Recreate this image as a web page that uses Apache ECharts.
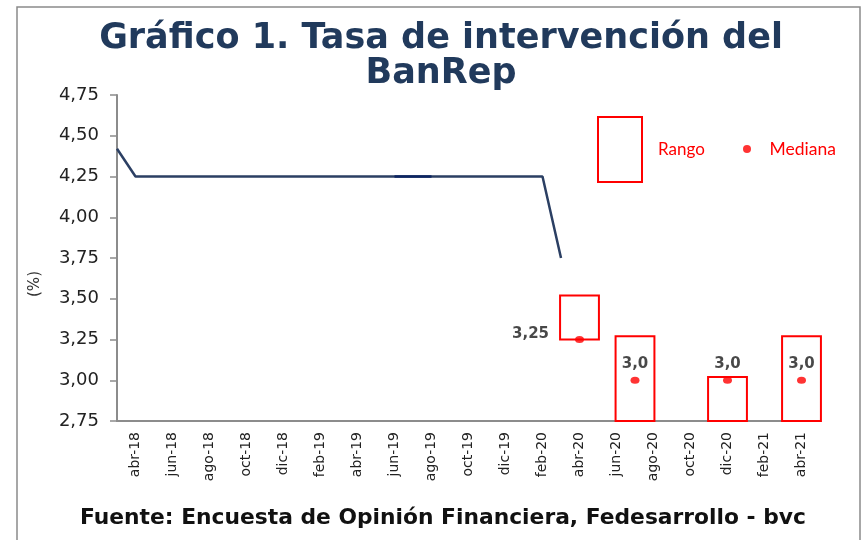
<!DOCTYPE html>
<html>
<head>
<meta charset="utf-8">
<script src="https://cdn.jsdelivr.net/npm/echarts@6/dist/echarts.min.js"></script>
<style>
  html, body { margin: 0; padding: 0; background: #fff; }
  #chart { width: 863px; height: 540px; }
</style>
</head>
<body>
<div id="chart"></div>
<script>
  // eje x mensual
  const meses = ['mar-18', 'abr-18', 'may-18', 'jun-18', 'jul-18', 'ago-18', 'sep-18', 'oct-18', 'nov-18', 'dic-18',
    'ene-19', 'feb-19', 'mar-19', 'abr-19', 'may-19', 'jun-19', 'jul-19', 'ago-19', 'sep-19', 'oct-19', 'nov-19', 'dic-19',
    'ene-20', 'feb-20', 'mar-20', 'abr-20', 'may-20', 'jun-20', 'jul-20', 'ago-20', 'sep-20', 'oct-20', 'nov-20', 'dic-20',
    'ene-21', 'feb-21', 'mar-21', 'abr-21', 'may-21'];
  // tasa observada
  const tasa = [4.42, 4.25, 4.25, 4.25, 4.25, 4.25, 4.25, 4.25, 4.25, 4.25,
    4.25, 4.25, 4.25, 4.25, 4.25, 4.25, 4.25, 4.25, 4.25, 4.25, 4.25, 4.25,
    4.25, 4.25, 3.75];
  const tramoMeses = ['jun-19', 'jul-19', 'ago-19'];
  const tramoVal = [4.25, 4.25, 4.25];
  // encuesta: rango y mediana
  const rangoMeses = ['abr-20', 'jul-20', 'dic-20', 'abr-21'];
  const rangoMin = [3.25, 2.75, 2.75, 2.75];
  const rangoMax = [3.52, 3.27, 3.02, 3.27];
  const mediana = [3.25, 3.0, 3.0, 3.0];

  const rojo = '#ff0000';
  const fmt = v => (v % 1 === 0 ? v.toFixed(1) : v.toFixed(2)).replace('.', ',');

  let option = {
    backgroundColor: '#fff',
    animation: false,
    title: [{
      text: 'Gráfico 1. Tasa de intervención del\nBanRep',
      left: 441,
      top: 21,
      padding: 0,
      textAlign: 'center',
      textStyle: {
        fontFamily: 'DejaVu Sans',
        fontWeight: 'bold',
        fontSize: 35,
        lineHeight: 35,
        color: '#213a5c'
      }
    }, {
      text: 'Fuente: Encuesta de Opinión Financiera, Fedesarrollo - bvc',
      left: 80,
      top: 507,
      padding: 0,
      textStyle: {
        fontFamily: 'DejaVu Sans',
        fontWeight: 'bold',
        fontSize: 21.8,
        color: '#111'
      }
    }],
    legend: [{
      data: [{ name: 'Rango', icon: 'rect', itemStyle: { color: '#fff', borderColor: rojo, borderWidth: 2 } }],
      left: 597,
      top: 116,
      padding: 0,
      itemWidth: 44,
      itemHeight: 65,
      textStyle: { fontFamily: 'Lato', fontSize: 17, color: rojo, padding: [0, 0, 0, 11] }
    }, {
      data: [{ name: 'Mediana', icon: 'circle' }],
      left: 743,
      top: 140,
      padding: 0,
      itemWidth: 9,
      itemHeight: 8,
      textStyle: { fontFamily: 'Lato', fontSize: 17.5, color: rojo, padding: [0, 0, 0, 13] }
    }],
    graphic: [{
      type: 'rect',
      shape: { x: 17, y: 7, width: 843, height: 560 },
      style: { fill: 'none', stroke: '#8a8a8a', lineWidth: 1.5 },
      silent: true
    }],
    grid: { left: 117, right: 43, top: 95, bottom: 119 },
    xAxis: {
      type: 'category',
      data: meses,
      boundaryGap: false,
      axisLine: { lineStyle: { color: '#8c8c8c', width: 2 } },
      axisTick: { show: false },
      axisLabel: {
        rotate: 90,
        margin: 11,
        fontFamily: 'DejaVu Sans',
        fontSize: 14,
        color: '#222',
        interval: function (index) { return index % 2 === 1; }
      },
      splitLine: { show: false }
    },
    yAxis: {
      type: 'value',
      min: 2.75,
      max: 4.75,
      interval: 0.25,
      name: '(%)',
      nameLocation: 'middle',
      nameGap: 74,
      nameTextStyle: { fontFamily: 'DejaVu Sans', fontSize: 15, color: '#333', padding: [0, 52, 0, 0] },
      axisLine: { show: true, lineStyle: { color: '#8c8c8c', width: 2 } },
      axisTick: { show: true, length: 7, lineStyle: { color: '#8c8c8c', width: 1.5 } },
      axisLabel: {
        margin: 18,
        fontFamily: 'DejaVu Sans',
        fontSize: 18,
        color: '#222',
        formatter: v => v.toFixed(2).replace('.', ',')
      },
      splitLine: { show: false }
    },
    series: [{
      name: 'Tasa',
      type: 'line',
      data: tasa,
      showSymbol: false,
      lineStyle: { color: '#2b3f63', width: 2.5 },
      z: 3
    }, {
      name: 'Tramo',
      type: 'line',
      data: tramoMeses.map((m, i) => [m, tramoVal[i]]),
      showSymbol: false,
      lineStyle: { color: '#0c2461', width: 2.5 },
      z: 4
    }, {
      name: 'Rango',
      type: 'custom',
      itemStyle: { color: '#fff', borderColor: rojo, borderWidth: 2 },
      encode: { x: 0, y: [1, 2] },
      data: rangoMeses.map((m, i) => [m, rangoMin[i], rangoMax[i]]),
      renderItem: function (params, api) {
        let lo = api.coord([api.value(0), api.value(1)]);
        let hi = api.coord([api.value(0), api.value(2)]);
        let w = api.size([1, 0])[0] * 2.1;
        return {
          type: 'rect',
          shape: { x: lo[0] - w / 2, y: hi[1], width: w, height: lo[1] - hi[1] },
          style: { fill: 'none', stroke: rojo, lineWidth: 2 }
        };
      },
      z: 5
    }, {
      name: 'Mediana',
      type: 'scatter',
      symbol: 'circle',
      symbolSize: [9, 7],
      itemStyle: { color: rojo },
      data: rangoMeses.map((m, i) => {
        let item = { value: [m, mediana[i]] };
        if (i === 0) item.label = { position: 'left', distance: 26, offset: [0, -5] };
        return item;
      }),
      label: {
        show: true,
        position: 'top',
        distance: 5,
        fontFamily: 'DejaVu Sans',
        fontWeight: 'bold',
        fontSize: 15,
        color: '#1a1a1a',
        formatter: p => fmt(p.value[1])
      },
      z: 6
    }]
  };

  let chartDom = echarts.init(document.getElementById('chart'));
  chartDom.setOption(option);
  window.addEventListener('resize', function () {
    chartDom.resize();
  }, false);
</script>
</body>
</html>
